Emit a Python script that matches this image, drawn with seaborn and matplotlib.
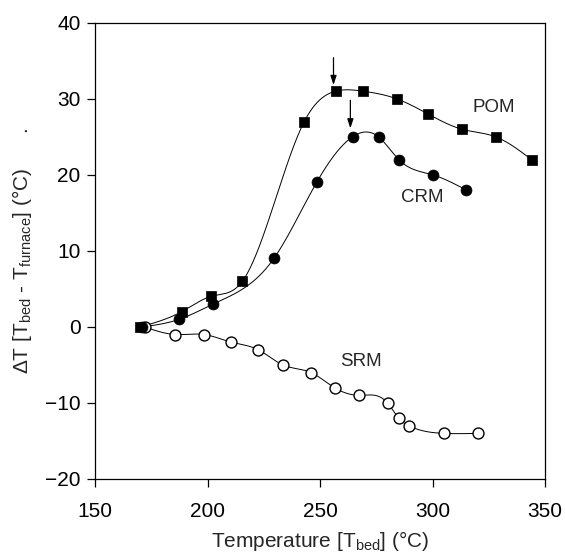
import numpy as np
import pandas as pd
import matplotlib
matplotlib.use("Agg")
import matplotlib.pyplot as plt
import seaborn as sns

# ---- data ----
pom_x = [170, 188.5, 201.5, 215.5, 243, 257, 269, 284, 298, 313, 328, 344]
pom_y = [0, 2, 4, 6, 27, 31, 31, 30, 28, 26, 25, 22]
crm_x = [171, 187.5, 202.5, 229.5, 248.5, 264.5, 276, 285, 300, 315]
crm_y = [0, 1, 3, 9, 19, 25, 25, 22, 20, 18]
srm_x = [172, 185.5, 198.5, 210.5, 222.5, 233.5, 246, 256.5, 267.5, 280, 285, 289.5, 305, 320]
srm_y = [0, -1, -1, -2, -3, -5, -6, -8, -9, -10, -12, -13, -14, -14]

series_labels = ["POM", "CRM", "SRM"]
label_pos = [(327, 28.8), (295.5, 17.0), (268, -4.5)]
arrow_x = [256, 263.5]
arrow_tip = [31.8, 26.1]
arrow_tail = [35.4, 29.8]

x_ticks = [150, 200, 250, 300, 350]
y_ticks = [-20, -10, 0, 10, 20, 30, 40]

sns.set_style("ticks")
plt.rcParams["font.family"] = ["Liberation Sans", "DejaVu Sans"]
plt.rcParams["mathtext.fontset"] = "custom"
plt.rcParams["mathtext.rm"] = "Liberation Sans"
plt.rcParams["mathtext.it"] = "Liberation Sans:italic"


def natural_spline(x, y, n=500):
    x = np.asarray(x, float)
    y = np.asarray(y, float)
    N = len(x)
    h = np.diff(x)
    A = np.zeros((N, N))
    b = np.zeros(N)
    A[0, 0] = A[-1, -1] = 1
    for i in range(1, N - 1):
        A[i, i - 1] = h[i - 1]
        A[i, i] = 2 * (h[i - 1] + h[i])
        A[i, i + 1] = h[i]
        b[i] = 3 * ((y[i + 1] - y[i]) / h[i] - (y[i] - y[i - 1]) / h[i - 1])
    c = np.linalg.solve(A, b)
    xs = np.linspace(x[0], x[-1], n)
    idx = np.clip(np.searchsorted(x, xs) - 1, 0, N - 2)
    dx = xs - x[idx]
    bc = (y[1:] - y[:-1]) / h - h * (2 * c[:-1] + c[1:]) / 3
    d = (c[1:] - c[:-1]) / (3 * h)
    ys = y[idx] + bc[idx] * dx + c[idx] * dx ** 2 + d[idx] * dx ** 3
    return xs, ys


fig = plt.figure(figsize=(5.65, 5.55), dpi=100)
ax = fig.add_axes([95 / 565, 1 - 479 / 555, 450 / 565, (479 - 22.7) / 555])

for xv, yv in [(srm_x, srm_y), (crm_x, crm_y), (pom_x, pom_y)]:
    xs, ys = natural_spline(xv, yv)
    sns.lineplot(x=xs, y=ys, ax=ax, color="black", linewidth=0.7,
                 sort=False, estimator=None, zorder=2)

sns.scatterplot(x=srm_x, y=srm_y, ax=ax, marker="o", s=62, facecolor="white",
                edgecolor="black", linewidth=1.0, zorder=3)
sns.scatterplot(x=crm_x, y=crm_y, ax=ax, marker="o", s=62, color="black",
                edgecolor="black", linewidth=0.5, zorder=4)
sns.scatterplot(x=pom_x, y=pom_y, ax=ax, marker="s", s=62, color="black",
                edgecolor="black", linewidth=0.5, zorder=5)

for lab, (lx, ly) in zip(series_labels, label_pos):
    ax.text(lx, ly, lab, fontsize=13.5, ha="center", va="center")

for axx, tip, tail in zip(arrow_x, arrow_tip, arrow_tail):
    ax.annotate("", xy=(axx, tip), xytext=(axx, tail),
                arrowprops=dict(arrowstyle="-|>,head_length=0.55,head_width=0.18",
                                color="black", lw=0.9, shrinkA=0, shrinkB=0))

ax.set_xlim(150, 350)
ax.set_ylim(-20, 40)
ax.set_xticks(x_ticks)
ax.set_yticks(y_ticks)
ax.tick_params(axis="both", which="major", direction="out", length=5.5,
               width=0.9, labelsize=15, colors="black")
ax.tick_params(axis="x", pad=11)
ax.tick_params(axis="y", pad=5)
for sp in ax.spines.values():
    sp.set_visible(True)
    sp.set_linewidth(0.9)
    sp.set_color("black")

ax.set_xlabel(r"Temperature [T$_\mathregular{bed}$] (°C)", fontsize=15, labelpad=6)
ax.set_ylabel(r"$\Delta$T [T$_\mathregular{bed}$ - T$_\mathregular{furnace}$] (°C)" + "      .",
              fontsize=15)
ax.yaxis.set_label_coords(-0.135, 0.5)

fig.savefig("out.png", dpi=100)
